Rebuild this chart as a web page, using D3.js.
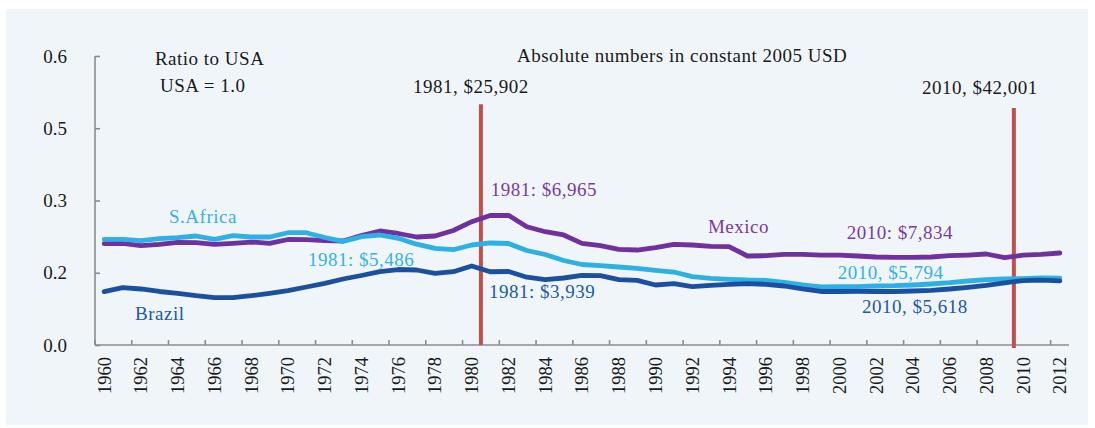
<!DOCTYPE html>
<html>
<head>
<meta charset="utf-8">
<script src="https://cdn.jsdelivr.net/npm/d3@7"></script>
<style>
  html, body { margin: 0; padding: 0; background: #ffffff; }
  svg text { font-family: "Liberation Serif", "Times New Roman", serif; }
</style>
</head>
<body>
<svg id="chart" width="1095" height="428"></svg>
<script>
// GDP per capita relative to the USA (USA = 1.0)
const years = d3.range(1960, 2013);

const mexico = [
  0.2103, 0.2111, 0.2061, 0.2091, 0.2132, 0.2124, 0.2091, 0.2111, 0.2138, 0.2111,
  0.2190, 0.2186, 0.2169, 0.2159, 0.2273, 0.2367, 0.2315, 0.2242, 0.2263, 0.2377,
  0.2560, 0.2689, 0.2693, 0.2456, 0.2352, 0.2284, 0.2111, 0.2061, 0.1987, 0.1972,
  0.2020, 0.2091, 0.2076, 0.2049, 0.2041, 0.1848, 0.1854, 0.1883, 0.1883, 0.1868,
  0.1868, 0.1848, 0.1827, 0.1821, 0.1821, 0.1827, 0.1854, 0.1868, 0.1889, 0.1812,
  0.1865, 0.1883, 0.1910
];

const southAfrica = [
  0.2194, 0.2194, 0.2165, 0.2207, 0.2228, 0.2263, 0.2194, 0.2269, 0.2242, 0.2242,
  0.2331, 0.2331, 0.2232, 0.2153, 0.2248, 0.2284, 0.2215, 0.2093, 0.2007, 0.1978,
  0.2076, 0.2118, 0.2107, 0.1962, 0.1879, 0.1754, 0.1671, 0.1646, 0.1619, 0.1592,
  0.1550, 0.1515, 0.1418, 0.1385, 0.1364, 0.1349, 0.1343, 0.1302, 0.1246, 0.1204,
  0.1211, 0.1211, 0.1225, 0.1231, 0.1246, 0.1266, 0.1293, 0.1329, 0.1356, 0.1370,
  0.1379, 0.1395, 0.1390
];

const brazil = [
  0.1107, 0.1190, 0.1163, 0.1111, 0.1073, 0.1023, 0.0982, 0.0982, 0.1023, 0.1073,
  0.1131, 0.1204, 0.1281, 0.1370, 0.1443, 0.1522, 0.1567, 0.1557, 0.1488, 0.1522,
  0.1640, 0.1521, 0.1526, 0.1408, 0.1356, 0.1391, 0.1443, 0.1439, 0.1356, 0.1343,
  0.1246, 0.1273, 0.1211, 0.1239, 0.1260, 0.1273, 0.1260, 0.1225, 0.1163, 0.1111,
  0.1111, 0.1115, 0.1111, 0.1111, 0.1121, 0.1136, 0.1163, 0.1198, 0.1239, 0.1290,
  0.1338, 0.1345, 0.1330
];

// y axis: five evenly spaced ticks, labelled to one decimal place
const yTickValues = [0, 0.15, 0.3, 0.45, 0.6];
const yTickLabels = ["0.0", "0.2", "0.3", "0.5", "0.6"];
const xTickYears = d3.range(1960, 2013, 2);

// reference years: USA GDP per capita (constant 2005 USD)
const markerYears = [1981, 2010];
const markerLabels = ["1981, $25,902", "2010, $42,001"];
const markerTops = [0.5, 0.492];

const series = [
  { name: "Mexico", values: mexico, color: "#7030A0" },
  { name: "S.Africa", values: southAfrica, color: "#2DB0E6" },
  { name: "Brazil", values: brazil, color: "#1B50A0" }
];

const W = 1095, H = 428;
const svg = d3.select("#chart");

// panel background
svg.append("rect")
  .attr("x", 6).attr("y", 9).attr("width", 1082).attr("height", 416)
  .attr("fill", "#F0F5FA");

const x = d3.scaleBand().domain(years).range([95, 1069]).padding(0);
const bw = x.bandwidth();
const xc = d => x(d) + bw / 2;
const xLin = d3.scaleLinear().domain([1960, 2012]).range([xc(1960), xc(2012)]);
const y = d3.scaleLinear().domain([0, 0.6]).range([345, 56]);

const axisColor = "#8C8C8C";

// y axis with inward ticks
const yAxis = d3.axisRight(y).tickValues(yTickValues).tickSize(5).tickFormat("");
const gy = svg.append("g").attr("transform", "translate(95,0)").call(yAxis);
gy.select(".domain").attr("stroke", axisColor).attr("stroke-width", 1.6).attr("d", `M0,${y(0.6)}V${y(0)}`);
gy.selectAll(".tick line").attr("stroke", axisColor).attr("stroke-width", 1.6);

svg.append("g").selectAll("text")
  .data(yTickValues)
  .join("text")
  .attr("x", 67)
  .attr("y", d => y(d))
  .attr("dy", "0.35em")
  .attr("text-anchor", "end")
  .attr("font-size", 19)
  .attr("fill", "#1a1a1a")
  .text((d, i) => yTickLabels[i]);

// x axis: ticks between categories, every second year
const gx = svg.append("g");
gx.append("line")
  .attr("x1", x(1960)).attr("x2", x(2012) + bw)
  .attr("y1", y(0)).attr("y2", y(0))
  .attr("stroke", axisColor).attr("stroke-width", 1.6);
gx.selectAll("line.tick")
  .data(xTickYears)
  .join("line")
  .attr("class", "tick")
  .attr("x1", d => x(d)).attr("x2", d => x(d))
  .attr("y1", y(0)).attr("y2", y(0) - 5)
  .attr("stroke", axisColor).attr("stroke-width", 1.6);
gx.selectAll("text")
  .data(xTickYears)
  .join("text")
  .attr("transform", d => `translate(${xc(d)},${y(0) + 12}) rotate(-90)`)
  .attr("text-anchor", "end")
  .attr("dy", "0.35em")
  .attr("font-size", 18.5)
  .attr("fill", "#1a1a1a")
  .text(d => d);

// reference year markers
const mk = svg.append("g");
markerYears.forEach((yr, i) => {
  mk.append("line")
    .attr("x1", x(yr)).attr("x2", x(yr))
    .attr("y1", y(markerTops[i])).attr("y2", y(0) + (i === 1 ? 3 : 0))
    .attr("stroke", "#C0504D").attr("stroke-width", 4);
});

// series lines
const line = d3.line()
  .x((d, i) => xc(years[i]))
  .y(d => y(d));

svg.append("g").selectAll("path")
  .data(series)
  .join("path")
  .attr("d", d => line(d.values))
  .attr("fill", "none")
  .attr("stroke", d => d.color)
  .attr("stroke-width", 4.8)
  .attr("stroke-linejoin", "round")
  .attr("stroke-linecap", "round");

// annotations placed in data space (year, ratio)
const notes = [
  { text: "Ratio to USA", yr: 1962.76, v: 0.5813, color: "#1a1a1a" },
  { text: "USA = 1.0", yr: 1963.04, v: 0.5252, color: "#1a1a1a" },
  { text: "Absolute numbers in constant 2005 USD", yr: 1982.46, v: 0.5875, color: "#1a1a1a" },
  { text: markerLabels[0], yr: 1976.8, v: 0.5232, color: "#1a1a1a" },
  { text: markerLabels[1], yr: 2004.5, v: 0.5211, color: "#1a1a1a" },
  { text: "S.Africa", yr: 1963.53, v: 0.2533, color: "#33B2E6" },
  { text: "Brazil", yr: 1961.68, v: 0.0519, color: "#2059A8" },
  { text: "1981: $5,486", yr: 1971.09, v: 0.1640, color: "#33B2E6" },
  { text: "1981: $6,965", yr: 1981.04, v: 0.3093, color: "#7A3AA3" },
  { text: "1981: $3,939", yr: 1980.94, v: 0.0976, color: "#2059A8" },
  { text: "Mexico", yr: 1992.85, v: 0.2325, color: "#7A3AA3" },
  { text: "2010: $7,834", yr: 2000.41, v: 0.2201, color: "#7A3AA3" },
  { text: "2010, $5,794", yr: 1999.92, v: 0.1370, color: "#33B2E6" },
  { text: "2010, $5,618", yr: 2001.23, v: 0.0664, color: "#2059A8" }
];

svg.append("g").selectAll("text")
  .data(notes)
  .join("text")
  .attr("x", d => xLin(d.yr) - bw / 2 + bw / 2)
  .attr("y", d => y(d.v))
  .attr("font-size", 19)
  .attr("letter-spacing", 0.5)
  .attr("fill", d => d.color)
  .text(d => d.text);
</script>
</body>
</html>
